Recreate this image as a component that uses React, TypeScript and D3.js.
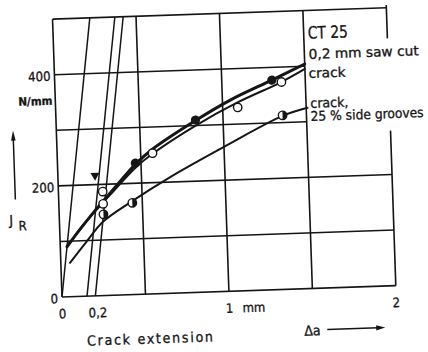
import React from "react";
import * as d3 from "d3";

// J-R curves of CT25 specimens
const sawCutDa = [0.04, 0.12, 0.2, 0.31, 0.466, 0.571, 0.835, 1.05, 1.3, 1.5];
const sawCutJ = [90, 120, 148, 184, 234, 260, 309, 344, 377, 404];
const crackDa = [0.04, 0.12, 0.2, 0.31, 0.466, 0.571, 0.835, 1.09, 1.357, 1.5];
const crackJ = [90, 120, 147, 181, 228, 252, 300, 339, 373, 395];
const grooveDa = [0.055, 0.15, 0.262, 0.428, 0.672, 1.0, 1.357, 1.508];
const grooveJ = [61, 95, 133, 166, 209, 260, 312, 325];

// measured points
const sawCutPtDa = [0.466, 0.835, 1.3];
const sawCutPtJ = [236, 310, 377];
const crackPtDa = [0.265, 0.265, 0.571, 1.09, 1.357];
const crackPtJ = [187, 165, 253, 330, 373];
const groovePtDa = [0.265, 0.44, 1.357];
const groovePtJ = [146, 165, 313];

// blunting line and its offset lines
const bluntOffsets = [0, 0.15, 0.2];
const bluntSlope = 2240;
const initDa = 0.222;
const initJ = 214;

const xGrid = [0.5, 1, 1.5];
const yGridFull = [100, 200];
const yGridShort = [300, 400];
const yTicks = [0, 200, 400];
const xTicks = [0, 0.2, 1, 2];
const xTickLabels = ["0", "0,2", "1", "2"];

const W = 428;
const H = 352;
const ink = "#151515";
const font = "'DejaVu Sans Condensed', 'DejaVu Sans', sans-serif";

const x = d3.scaleLinear([0, 2], [62, 396]);
const y = d3.scaleLinear([0, 500], [297, 19]);

const zip = (a: number[], b: number[]): [number, number][] =>
  a.map((v, i) => [v, b[i]]);

const curve = d3
  .line<[number, number]>()
  .x((d) => x(d[0]))
  .y((d) => y(d[1]))
  .curve(d3.curveCatmullRom.alpha(0.5));

const App = () => {
  const r = 4.2;
  return (
    <svg
      width={W}
      height={H}
      style={{ position: "absolute", left: 0, top: 0, background: "#fff" }}
      fontFamily={font}
    >
      <g transform={`rotate(-1.95, ${x(0)}, ${y(0)})`} fill={ink} stroke="none">
        {/* grid */}
        <g stroke={ink} strokeWidth={1.6}>
          {xGrid.map((d) => (
            <line key={d} x1={x(d)} x2={x(d)} y1={y(0)} y2={y(500)} />
          ))}
          {yGridFull.map((d) => (
            <line key={d} x1={x(0)} x2={x(2)} y1={y(d)} y2={y(d)} />
          ))}
          {yGridShort.map((d) => (
            <line key={d} x1={x(0)} x2={x(1.5)} y1={y(d)} y2={y(d)} />
          ))}
          {/* frame */}
          <line x1={x(0)} x2={x(0)} y1={y(0)} y2={y(500)} />
          <line x1={x(0)} x2={x(2)} y1={y(0)} y2={y(0)} />
          <line x1={x(0)} x2={x(2)} y1={y(500)} y2={y(500)} />
          <line x1={x(2)} x2={x(2)} y1={y(0)} y2={y(279)} />
          <line x1={x(2)} x2={x(2)} y1={y(445)} y2={y(505)} />
        </g>

        {/* blunting lines */}
        <g stroke={ink} strokeWidth={1.5}>
          {bluntOffsets.map((o) => (
            <line
              key={o}
              x1={x(o)}
              y1={y(0)}
              x2={x(o + 500 / bluntSlope)}
              y2={y(500)}
            />
          ))}
        </g>

        {/* curves */}
        <g fill="none" stroke={ink} strokeLinecap="round">
          <path d={curve(zip(grooveDa, grooveJ)) || ""} strokeWidth={2} />
          <path d={curve(zip(crackDa, crackJ)) || ""} strokeWidth={2} />
          <path d={curve(zip(sawCutDa, sawCutJ)) || ""} strokeWidth={3} />
        </g>

        {/* points */}
        {sawCutPtDa.map((d, i) => (
          <circle key={"s" + i} cx={x(d)} cy={y(sawCutPtJ[i])} r={4.6} fill={ink} />
        ))}
        {crackPtDa.map((d, i) => (
          <circle
            key={"c" + i}
            cx={x(d)}
            cy={y(crackPtJ[i])}
            r={r}
            fill="#fff"
            stroke={ink}
            strokeWidth={1.4}
          />
        ))}
        {groovePtDa.map((d, i) => {
          const cx = x(d);
          const cy = y(groovePtJ[i]);
          return (
            <g key={"g" + i}>
              <circle cx={cx} cy={cy} r={r} fill="#fff" stroke={ink} strokeWidth={1.4} />
              <path d={`M${cx},${cy - r}A${r},${r} 0 0 1 ${cx},${cy + r}Z`} fill={ink} />
            </g>
          );
        })}
        <path
          d={`M${x(initDa) - 4.5},${y(initJ) - 4}h9l-4.5,8z`}
          fill={ink}
        />

        {/* all text slightly heavier, like the scanned print */}
        <g stroke={ink} strokeWidth={0.3}>
          {yTicks.map((t) => (
            <text key={t} x={x(0) - 4} y={y(t) + 6} fontSize={13} textAnchor="end">
              {t}
            </text>
          ))}
          <text x={59} y={104.5} fontSize={11.5} fontWeight="bold" textAnchor="end">
            N/mm
          </text>
          <text x={12} y={223.5} fontSize={14}>
            J
          </text>
          <text x={21} y={229} fontSize={13}>
            R
          </text>

          {xTicks.map((t, i) => (
            <text
              key={t}
              x={x(t) + (t === 0.2 ? 2 : 0)}
              y={318.5}
              fontSize={13}
              textAnchor="middle"
            >
              {xTickLabels[i]}
            </text>
          ))}
          <text x={x(1) + 13} y={318.5} fontSize={13}>
            mm
          </text>
          <text x={85.5} y={346.5} fontSize={14} textLength={126} lengthAdjust="spacing">
            Crack extension
          </text>
          <text x={303} y={344} fontSize={14}>
            Δa
          </text>

          <text x={316.6} y={47.3} fontSize={17} textLength={40} lengthAdjust="spacingAndGlyphs">
            CT 25
          </text>
          <text x={316.8} y={67.5} fontSize={13.5} textLength={110} lengthAdjust="spacingAndGlyphs">
            0,2 mm saw cut
          </text>
          <text x={316} y={86.5} fontSize={13.5} textLength={37} lengthAdjust="spacingAndGlyphs">
            crack
          </text>
          <text x={316.8} y={116.5} fontSize={13.5} textLength={38} lengthAdjust="spacingAndGlyphs">
            crack,
          </text>
          <text x={316.6} y={129.5} fontSize={13.5} textLength={113} lengthAdjust="spacingAndGlyphs">
            25 % side grooves
          </text>
        </g>

        {/* axis arrows */}
        <line x1={18.7} x2={18.7} y1={198} y2={136} stroke={ink} strokeWidth={1.5} />
        <path d="M18.7,129l-2.3,10h4.6z" />
        <line x1={326} x2={377} y1={338.5} y2={338.5} stroke={ink} strokeWidth={1.5} />
        <path d="M384,338.5l-9,-2.6v5.2z" />
      </g>
    </svg>
  );
};

export default App;
